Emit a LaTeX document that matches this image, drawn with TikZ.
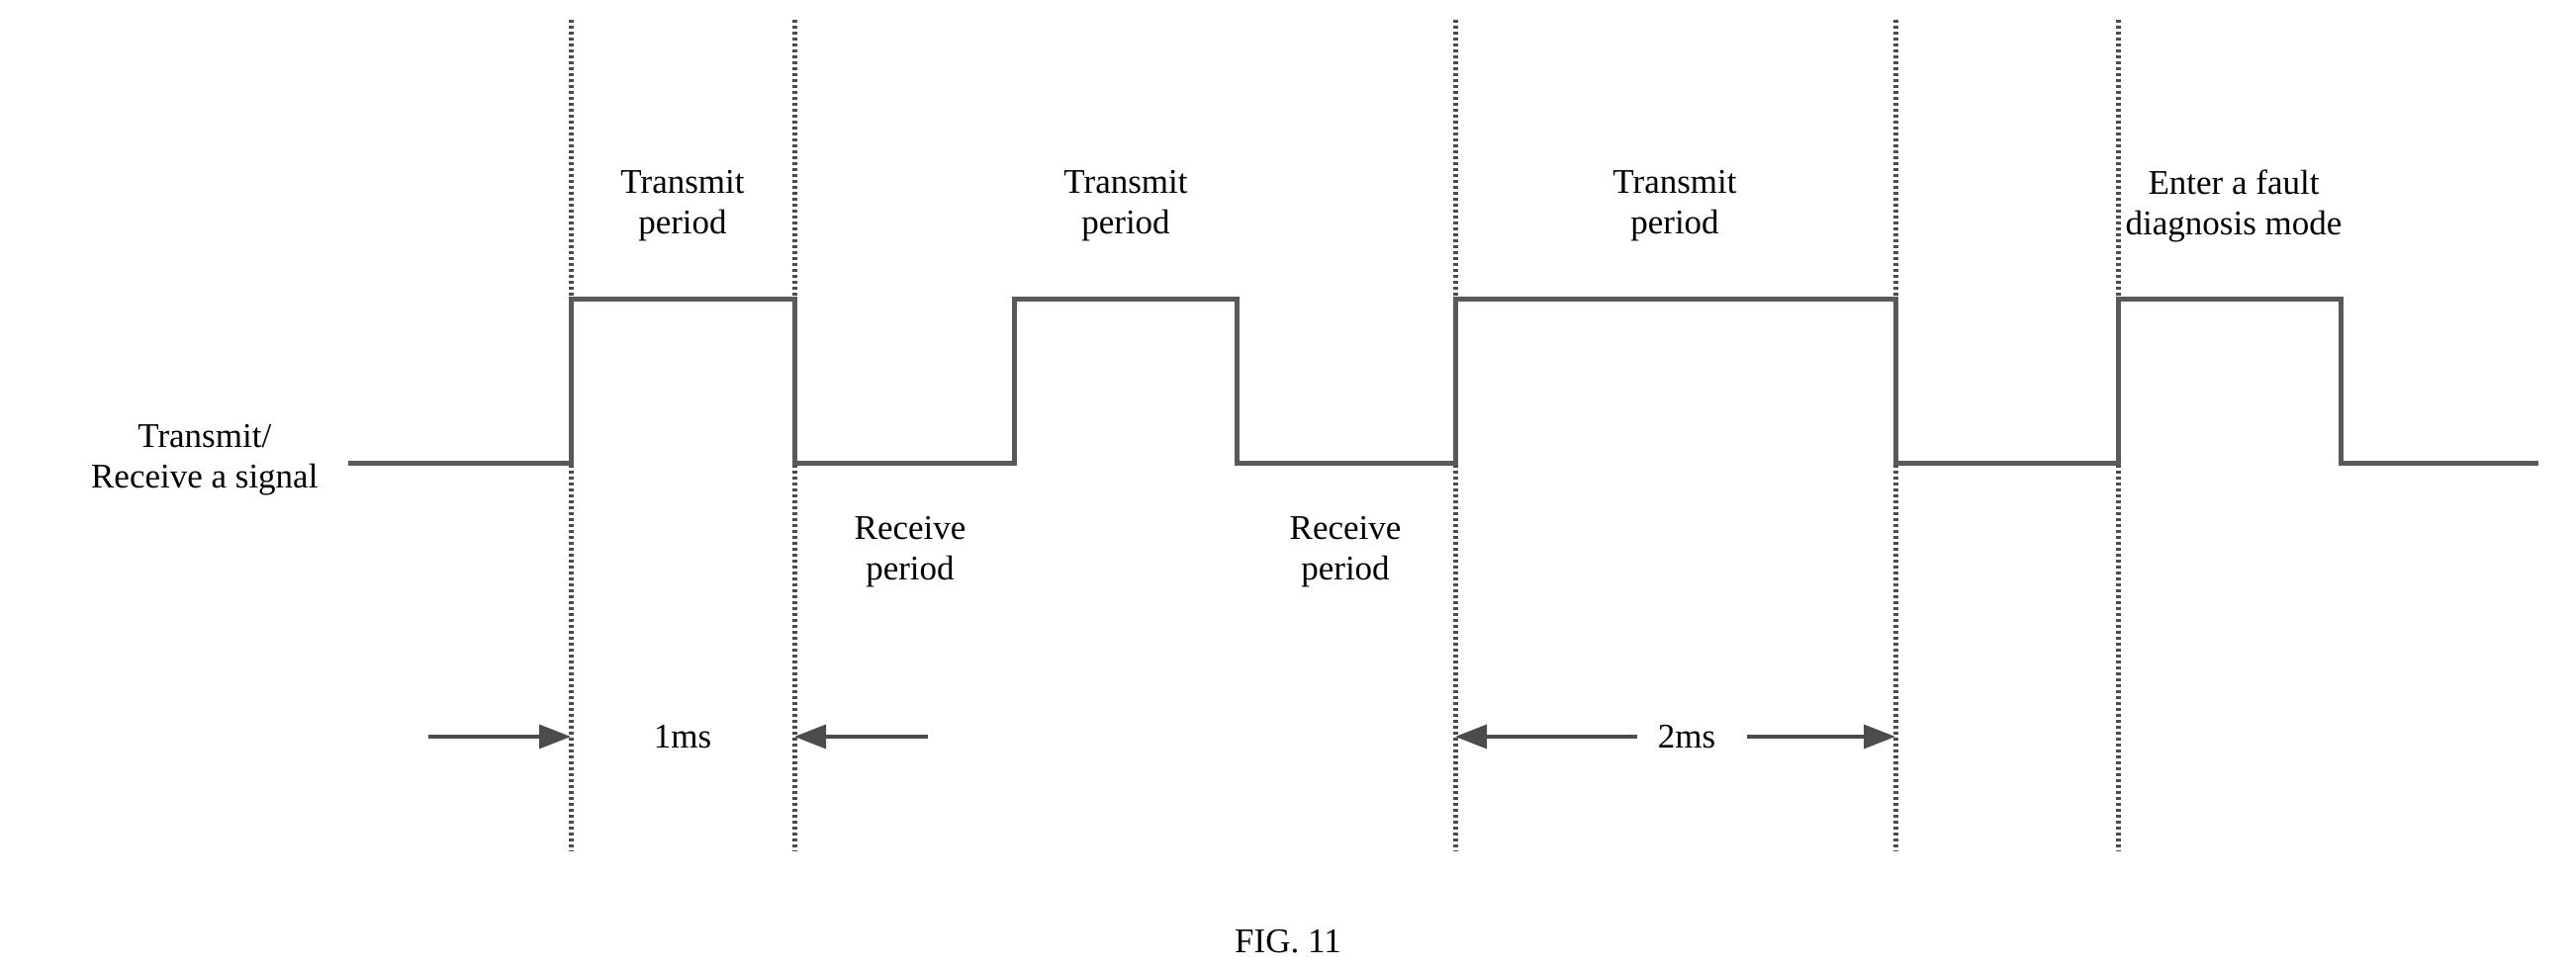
\documentclass[tikz,border=0pt]{standalone}
\usepackage{fontspec}
\setmainfont{Liberation Serif}
\usetikzlibrary{arrows.meta}
\begin{document}
\begin{tikzpicture}[x=1pt,y=-1pt,
  sig/.style={line width=5pt,draw=black!65,line join=miter},
  guide/.style={line width=5pt,draw=black!70,dash pattern=on 3pt off 3pt},
  dim/.style={line width=3.5pt,draw=black!70,-{Triangle[length=32pt,width=24pt]}},
  lbl/.style={font=\fontsize{35}{41}\selectfont,align=center}]
\useasboundingbox (0,0) rectangle (2604,981);
\foreach \x/\n in {577/a,803/b,1471/c,1916/d,2141/e}{
  \coordinate (\n t) at (\x,20); \coordinate (\n b) at (\x,861);
  \draw[guide] (\n t) -- (\n b);}
\draw[sig] (352,468) -- (577,468) -- (577,303) -- (803,303) -- (803,468) -- (1025,468) -- (1025,303) -- (1250,303) -- (1250,468) -- (1471,468) -- (1471,303) -- (1916,303) -- (1916,468) -- (2141,468) -- (2141,303) -- (2366,303) -- (2366,468) -- (2566,468);
\node[lbl,anchor=east] (sl) at (325,465) {Transmit/\\Receive a signal};
\node[lbl] (t1) at (690,208) {Transmit\\period};
\node[lbl] (t2) at (1138,208) {Transmit\\period};
\node[lbl] (t3) at (1693,208) {Transmit\\period};
\node[lbl] (t4) at (2258,208) {Enter a fault\\diagnosis mode};
\node[lbl] (r1) at (920,558) {Receive\\period};
\node[lbl] (r2) at (1360,558) {Receive\\period};
\node[lbl] (m1) at (690,745) {1ms};
\node[lbl] (m2) at (1705,745) {2ms};
\coordinate (p1) at (433,745); \coordinate (q1) at (577,745);
\coordinate (p2) at (938,745); \coordinate (q2) at (803,745);
\coordinate (p3) at (1655,745); \coordinate (q3) at (1471,745);
\coordinate (p4) at (1766,745); \coordinate (q4) at (1916,745);
\draw[dim] (p1) -- (q1);
\draw[dim] (p2) -- (q2);
\draw[dim] (p3) -- (q3);
\draw[dim] (p4) -- (q4);
\node[lbl] (fig) at (1302,952) {FIG. 11};
\end{tikzpicture}
\end{document}
